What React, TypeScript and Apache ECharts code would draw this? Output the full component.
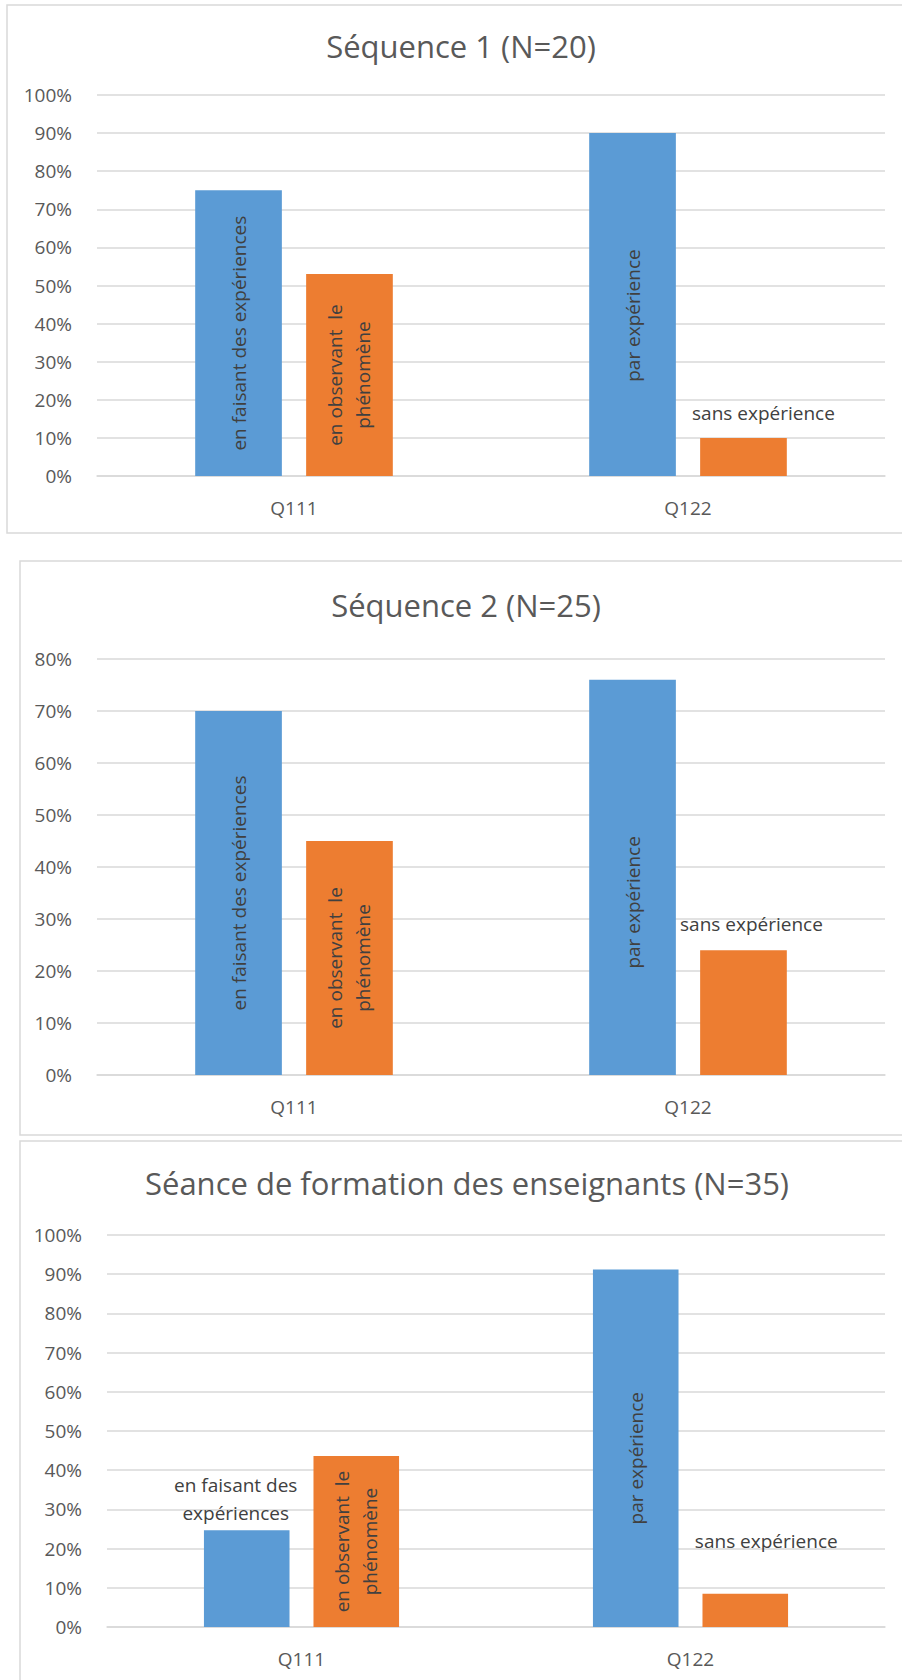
import React, { useEffect, useRef } from "react";
import * as echarts from "echarts";

// ---- Data ----
const categories = ["Q111", "Q122"];

const titles = [
  "Séquence 1 (N=20)",
  "Séquence 2 (N=25)",
  "Séance de formation des enseignants (N=35)",
];

// Séquence 1 (N=20)
const seq1Blue = [75, 90];
const seq1Orange = [53, 10];
// Séquence 2 (N=25)
const seq2Blue = [70, 76];
const seq2Orange = [45, 24];
// Séance de formation (N=35)
const formBlue = [24.7, 91.2];
const formOrange = [43.6, 8.5];

const yMaxes = [100, 80, 100];
const yInterval = 10;

const blueLabels = ["en faisant des expériences", "par expérience"];
const orangeLabels = ["en observant  le\nphénomène", "sans expérience"];
const formBlueQ111Label = "en faisant des\nexpériences";

// ---- Styles ----
const BLUE = "#5B9BD5";
const ORANGE = "#ED7D31";
const GRID_COLOR = "#d9d9d9";
const AXIS_TEXT = "#595959";
const LABEL_TEXT = "#404040";
const FONT = "'Open Sans', 'Noto Sans', sans-serif";

const gridBoxes = [
  { left: 97, top: 95, width: 788, height: 381 },
  { left: 97, top: 659, width: 788, height: 416 },
  { left: 107, top: 1235, width: 778, height: 392 },
];

const panelBoxes = [
  { x: 7, y: 5, width: 908, height: 528 },
  { x: 20, y: 561, width: 892, height: 574 },
  { x: 20, y: 1141, width: 892, height: 600 },
];

const titlePos = [
  { x: 461, y: 46 },
  { x: 466, y: 605 },
  { x: 467, y: 1183 },
];

const rotatedLabel = {
  show: true,
  position: "inside",
  rotate: 90,
  fontFamily: FONT,
  fontSize: 19,
  color: LABEL_TEXT,
  lineHeight: 28,
  align: "center",
  verticalAlign: "middle",
};

const flatLabel = {
  show: true,
  position: "top",
  rotate: 0,
  fontFamily: FONT,
  fontSize: 19,
  color: LABEL_TEXT,
  lineHeight: 28,
};

export default function App() {
  const ref = useRef<HTMLDivElement>(null);

  useEffect(() => {
    document.body.style.margin = "0";
    if (!ref.current) return;
    const chart = echarts.init(ref.current, undefined, { renderer: "svg" });

    const blueSets = [seq1Blue, seq2Blue, formBlue];
    const orangeSets = [seq1Orange, seq2Orange, formOrange];

    // per-panel label tweaks
    const parOffsets = [11, 25, 10];
    const sansDist = [11, 12, 39];
    const sansOffX = [20, 8, 21];

    const series: any[] = [];
    const grids: any[] = [];
    const xAxes: any[] = [];
    const yAxes: any[] = [];

    for (let i = 0; i < 3; i++) {
      grids.push({ ...gridBoxes[i], containLabel: false });
      xAxes.push({
        type: "category",
        gridIndex: i,
        data: categories,
        axisLine: { show: true, lineStyle: { color: GRID_COLOR, width: 1.5 } },
        axisTick: { show: false },
        axisLabel: { fontFamily: FONT, fontSize: 19, color: AXIS_TEXT, margin: 22 },
      });
      yAxes.push({
        type: "value",
        gridIndex: i,
        min: 0,
        max: yMaxes[i],
        interval: yInterval,
        axisLine: { show: false },
        axisTick: { show: false },
        axisLabel: {
          fontFamily: FONT,
          fontSize: 19,
          color: AXIS_TEXT,
          margin: 25,
          formatter: "{value}%",
        },
        splitLine: { lineStyle: { color: GRID_COLOR, width: 1.5 } },
      });

      const blueData = blueSets[i].map((v, j) => {
        if (j === 0) {
          if (i === 2) {
            return {
              value: v,
              label: {
                ...flatLabel,
                formatter: formBlueQ111Label,
                distance: 3,
                offset: [-11, 0],
              },
            };
          }
          return { value: v, label: { ...rotatedLabel, formatter: blueLabels[0] } };
        }
        return {
          value: v,
          label: { ...rotatedLabel, formatter: blueLabels[1], offset: [-parOffsets[i], 0] },
        };
      });

      const orangeData = orangeSets[i].map((v, j) => {
        if (j === 0) {
          return { value: v, label: { ...rotatedLabel, formatter: orangeLabels[0] } };
        }
        return {
          value: v,
          label: {
            ...flatLabel,
            formatter: orangeLabels[1],
            distance: sansDist[i],
            offset: [sansOffX[i], 0],
          },
        };
      });

      series.push({
        type: "bar",
        name: "blue" + i,
        xAxisIndex: i,
        yAxisIndex: i,
        data: blueData,
        barWidth: "22%",
        barGap: "28%",
        itemStyle: { color: BLUE },
      });
      series.push({
        type: "bar",
        name: "orange" + i,
        xAxisIndex: i,
        yAxisIndex: i,
        data: orangeData,
        barWidth: "22%",
        barGap: "28%",
        itemStyle: { color: ORANGE },
      });
    }

    const graphics: any[] = [];
    for (let i = 0; i < 3; i++) {
      graphics.push({
        type: "rect",
        z: -10,
        shape: { ...panelBoxes[i] },
        style: { fill: "#ffffff", stroke: GRID_COLOR, lineWidth: 1.5 },
        silent: true,
      });
      graphics.push({
        type: "text",
        x: titlePos[i].x,
        y: titlePos[i].y,
        style: {
          text: titles[i],
          fontFamily: FONT,
          fontSize: 31,
          fill: AXIS_TEXT,
          textAlign: "center",
          textVerticalAlign: "middle",
        },
        silent: true,
      });
    }

    chart.setOption({
      animation: false,
      backgroundColor: "#ffffff",
      grid: grids,
      xAxis: xAxes,
      yAxis: yAxes,
      series,
      graphic: graphics,
    });

    return () => {
      chart.dispose();
    };
  }, []);

  return <div ref={ref} style={{ width: 902, height: 1680 }} />;
}
